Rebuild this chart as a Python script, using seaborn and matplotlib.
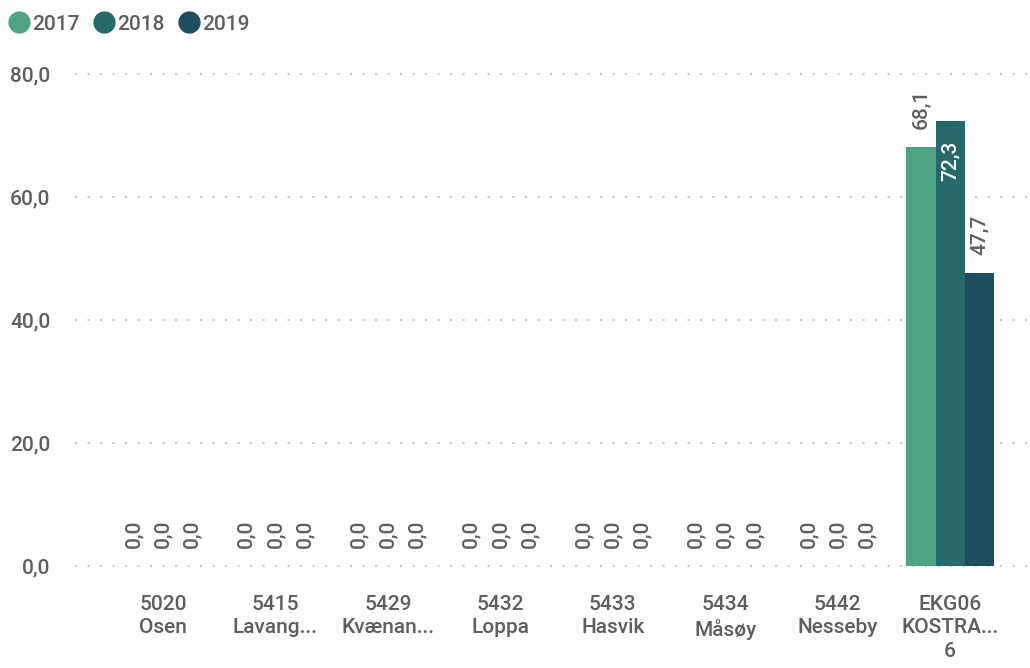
import pandas as pd
import matplotlib
matplotlib.use("Agg")
import matplotlib.pyplot as plt
import seaborn as sns
from matplotlib.lines import Line2D

# data
categories = [
    "5020\nOsen",
    "5415\nLavang...",
    "5429\nKvænan...",
    "5432\nLoppa",
    "5433\nHasvik",
    "5434\nMåsøy",
    "5442\nNesseby",
    "EKG06\nKOSTRA...\n6",
]
years = ["2017", "2018", "2019"]
values_2017 = [0.0, 0.0, 0.0, 0.0, 0.0, 0.0, 0.0, 68.1]
values_2018 = [0.0, 0.0, 0.0, 0.0, 0.0, 0.0, 0.0, 72.3]
values_2019 = [0.0, 0.0, 0.0, 0.0, 0.0, 0.0, 0.0, 47.7]
colors = ["#4EA383", "#26696B", "#1E4D5F"]
yticks = [0, 20, 40, 60, 80]

rows = []
for yr, vals in zip(years, [values_2017, values_2018, values_2019]):
    for cat, v in zip(categories, vals):
        rows.append({"kategori": cat, "år": yr, "verdi": v})
df = pd.DataFrame(rows)

sns.set_style("white")
plt.rcParams["font.family"] = ["Roboto", "DejaVu Sans"]
text_col = "#605E5C"
fs = 15

fig = plt.figure(figsize=(10.3, 6.68), dpi=100)
ax = fig.add_axes([0.073, 0.153, 0.927, 0.736])

sns.barplot(
    data=df, x="kategori", y="verdi", hue="år", palette=colors,
    width=0.78, saturation=1, linewidth=0, ax=ax, legend=False,
)

ax.set_ylim(0, 80)
ax.set_xlim(-0.78, 7.71)
ax.set_yticks(yticks)
ax.set_yticklabels([f"{t:.1f}".replace(".", ",") for t in yticks])
ax.set_xlabel("")
ax.set_ylabel("")
ax.tick_params(axis="both", length=0, labelsize=fs, colors=text_col)
ax.tick_params(axis="x", pad=21)
ax.tick_params(axis="y", pad=18)
for lbl in ax.get_xticklabels() + ax.get_yticklabels():
    lbl.set_fontweight("medium")
    lbl.set_linespacing(1.3)
for s in ax.spines.values():
    s.set_visible(False)
for t in yticks:
    ax.axhline(t, color="#C8C8C8", lw=1.5, ls=(0, (1, 5)), zorder=0, clip_on=False)

# data labels
for cont in ax.containers:
    for bar in cont:
        h = bar.get_height()
        x = bar.get_x() + bar.get_width() / 2
        txt = f"{h:.1f}".replace(".", ",")
        if h > 70:
            ax.annotate(txt, (x, h), xytext=(0, -14), textcoords="offset points",
                        rotation=90, ha="center", va="top", fontsize=fs,
                        color="white", fontweight="medium")
        else:
            ax.annotate(txt, (x, h), xytext=(0, 13), textcoords="offset points",
                        rotation=90, ha="center", va="bottom", fontsize=fs,
                        color=text_col, fontweight="medium")

handles = [Line2D([0], [0], marker="o", ls="", markersize=15,
                  markerfacecolor=c, markeredgecolor=c) for c in colors]
leg = fig.legend(handles, years, loc="upper left", bbox_to_anchor=(-0.008, 1.0),
                 ncol=3, frameon=False, fontsize=fs, handletextpad=0.05,
                 columnspacing=0.55, labelcolor=text_col, borderaxespad=0.3,
                 handlelength=1.2)
for t in leg.get_texts():
    t.set_fontweight("medium")

fig.savefig("out.png", dpi=100)
